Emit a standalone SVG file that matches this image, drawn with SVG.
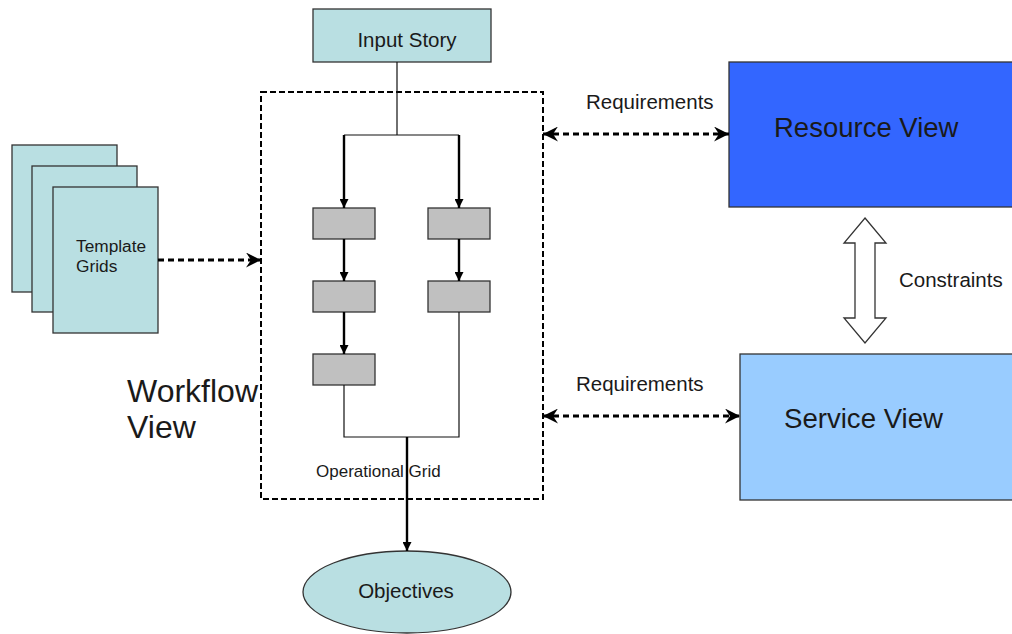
<svg xmlns="http://www.w3.org/2000/svg" width="1012" height="634" viewBox="0 0 1012 634">
<style>
text{font-family:"Liberation Sans",Arial,sans-serif;fill:#1a1a1a}
.teal{fill:#B9DFE2;stroke:#333;stroke-width:1.3}
.gray{fill:#C0C0C0;stroke:#333;stroke-width:1.3}
.thin{stroke:#111;stroke-width:1.2;fill:none}
.solid{stroke:#000;stroke-width:2.4;fill:none}
.dash{stroke:#000;stroke-width:3;fill:none;stroke-dasharray:6 4}
</style>
<defs>
<marker id="tri" viewBox="0 0 10 10" refX="10" refY="5" markerWidth="9" markerHeight="9" markerUnits="userSpaceOnUse" orient="auto">
<path d="M0,0 L10,5 L0,10 z" fill="#000"/>
</marker>
<marker id="stealth" viewBox="0 0 12 12" refX="12" refY="6" markerWidth="15" markerHeight="15" markerUnits="userSpaceOnUse" orient="auto-start-reverse">
<path d="M0,0 L12,6 L0,12 L4,6 z" fill="#000"/>
</marker>
</defs>

<g id="workflow-view">
<rect x="261" y="92" width="282" height="407" fill="none" stroke="#000" stroke-width="2" stroke-dasharray="6 3"/>
<text x="127" y="402" font-size="32">Workflow</text>
<text x="127" y="438" font-size="32">View</text>
<text x="316" y="477" font-size="17">Operational Grid</text>
</g>

<g id="input-story">
<rect class="teal" x="313" y="9" width="178" height="53"/>
<text x="407" y="47" font-size="20.5" text-anchor="middle">Input Story</text>
</g>

<g id="template-grids">
<rect class="teal" x="12" y="145" width="105" height="147"/>
<rect class="teal" x="32" y="166" width="105" height="146"/>
<rect class="teal" x="53" y="187" width="105" height="146"/>
<text x="76" y="252" font-size="17.3">Template</text>
<text x="76" y="272" font-size="17.3">Grids</text>
</g>

<g id="step-a1"><rect class="gray" x="313" y="208" width="62" height="31"/></g>
<g id="step-a2"><rect class="gray" x="313" y="281" width="62" height="31"/></g>
<g id="step-a3"><rect class="gray" x="313" y="354" width="62" height="31"/></g>
<g id="step-b1"><rect class="gray" x="428" y="208" width="62" height="31"/></g>
<g id="step-b2"><rect class="gray" x="428" y="281" width="62" height="31"/></g>

<g id="objectives">
<ellipse cx="407" cy="592" rx="104" ry="41" fill="#B9DFE2" stroke="#333" stroke-width="1.3"/>
<text x="406" y="598" font-size="20.5" text-anchor="middle">Objectives</text>
</g>

<g id="resource-view">
<rect x="729" y="62" width="290" height="145" fill="#3366FF" stroke="#333" stroke-width="1.3"/>
<text x="774" y="137" font-size="27.5">Resource View</text>
</g>

<g id="service-view">
<rect x="740" y="354" width="280" height="146" fill="#99CCFF" stroke="#333" stroke-width="1.3"/>
<text x="784" y="428" font-size="27.6">Service View</text>
</g>

<g id="connectors">
<path class="thin" d="M397,62 V135 M344,135 H459"/>
<path class="solid" d="M344,135 V208" marker-end="url(#tri)"/>
<path class="solid" d="M459,135 V208" marker-end="url(#tri)"/>
<path class="solid" d="M344,239 V281" marker-end="url(#tri)"/>
<path class="solid" d="M459,239 V281" marker-end="url(#tri)"/>
<path class="solid" d="M344,312 V354" marker-end="url(#tri)"/>
<path class="thin" d="M344,385 V437 H459 V312"/>
<path class="solid" d="M407,437 V551" marker-end="url(#tri)"/>
<path class="dash" d="M158,260 H261" marker-end="url(#stealth)"/>
<path class="dash" d="M543,134 H729" marker-start="url(#stealth)" marker-end="url(#stealth)"/>
<path class="dash" d="M543,416 H740" marker-start="url(#stealth)" marker-end="url(#stealth)"/>
<path d="M865,218 L886,243 L875,243 L875,318 L886,318 L865,343 L844,318 L855,318 L855,243 L844,243 Z" fill="#fff" stroke="#333" stroke-width="1.3"/>
<text x="586" y="109" font-size="20.5">Requirements</text>
<text x="576" y="391" font-size="20.5">Requirements</text>
<text x="899" y="287" font-size="20.5">Constraints</text>
</g>
</svg>
